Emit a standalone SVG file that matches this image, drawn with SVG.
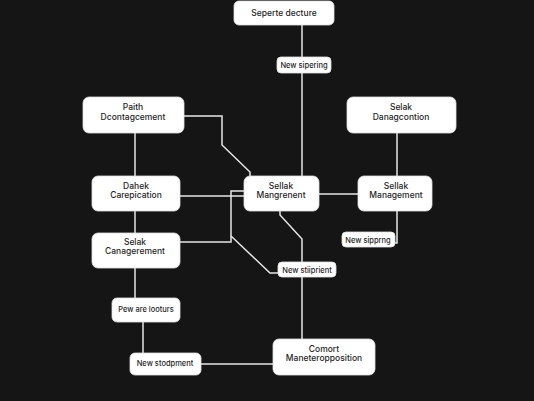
<svg xmlns="http://www.w3.org/2000/svg" width="534" height="401" viewBox="0 0 534 401">
<style>
.bg{fill:#151515}
.n{fill:#ffffff;stroke:#e0e0e0;stroke-width:0.8}
.t{font-family:Inter,"Liberation Sans",sans-serif;font-size:8.5px;font-weight:500;fill:#1f1f1f;text-anchor:middle}
.s{font-family:Inter,"Liberation Sans",sans-serif;font-size:7.5px;font-weight:500;fill:#1f1f1f;text-anchor:middle}
.c{fill:none;stroke:#e6e6e6;stroke-width:1.5;stroke-linejoin:miter}
</style>
<rect class="bg" x="0" y="0" width="534" height="401"/>
<g id="connectors">
<path class="c" d="M302,25 V176"/>
<path class="c" d="M184,116 H222 V145 L250,172 V176"/>
<path class="c" d="M135,133 V176"/>
<path class="c" d="M180,196 H244"/>
<path class="c" d="M135,211 V233"/>
<path class="c" d="M180,242 H231 V191 H244"/>
<path class="c" d="M231,236 L270,273 H278"/>
<path class="c" d="M280,211 V215 L302,239 V339"/>
<path class="c" d="M319,194 H358"/>
<path class="c" d="M397,133 V176"/>
<path class="c" d="M397,211 V243 H395"/>
<path class="c" d="M135,268 V298"/>
<path class="c" d="M143,322 V353"/>
<path class="c" d="M201,364 H273"/>
</g>
<g id="n1"><rect class="n" x="234" y="1" width="100" height="24" rx="5"/><text class="t" x="284" y="15.5">Seperte decture</text></g>
<g id="n2"><rect class="n" x="277" y="57" width="54" height="16" rx="4"/><text class="s" x="304" y="68">New sipering</text></g>
<g id="n3"><rect class="n" x="83" y="97" width="101" height="36" rx="6"/><text class="t" x="133" y="110">Paith</text><text class="t" x="133" y="120">Dcontagcement</text></g>
<g id="n4"><rect class="n" x="347" y="97" width="109" height="36" rx="6"/><text class="t" x="401" y="110">Selak</text><text class="t" x="401" y="120">Danagcontion</text></g>
<g id="n5"><rect class="n" x="92" y="176" width="88" height="35" rx="6"/><text class="t" x="136" y="189">Dahek</text><text class="t" x="136" y="198">Carepication</text></g>
<g id="n6"><rect class="n" x="244" y="176" width="75" height="35" rx="6"/><text class="t" x="281" y="189">Sellak</text><text class="t" x="281" y="198">Mangrenent</text></g>
<g id="n7"><rect class="n" x="358" y="176" width="74" height="35" rx="6"/><text class="t" x="396" y="189">Sellak</text><text class="t" x="396" y="198">Management</text></g>
<g id="n8"><rect class="n" x="342" y="232" width="53" height="15" rx="4"/><text class="s" x="368" y="243">New sipprng</text></g>
<g id="n9"><rect class="n" x="92" y="233" width="88" height="35" rx="6"/><text class="t" x="135" y="245">Selak</text><text class="t" x="135" y="254">Canagerement</text></g>
<g id="n10"><rect class="n" x="278" y="262" width="58" height="15" rx="4"/><text class="s" x="307" y="273">New stiiprient</text></g>
<g id="n11"><rect class="n" x="112" y="298" width="68" height="24" rx="5"/><text class="s" x="146" y="312">Pew are looturs</text></g>
<g id="n12"><rect class="n" x="130" y="353" width="71" height="22" rx="5"/><text class="s" x="165" y="366">New stodpment</text></g>
<g id="n13"><rect class="n" x="273" y="339" width="102" height="36" rx="6"/><text class="t" x="324" y="352">Comort</text><text class="t" x="324" y="361">Maneteropposition</text></g>
</svg>
